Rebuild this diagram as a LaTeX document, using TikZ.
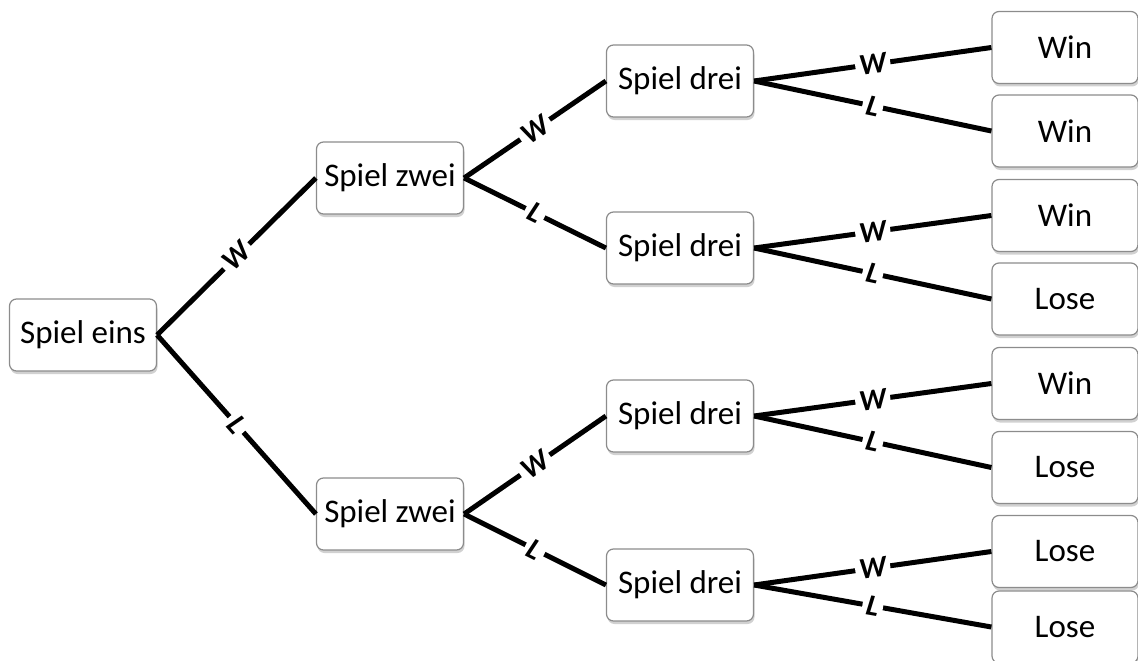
\documentclass[tikz,border=0pt]{standalone}
\usepackage{fontspec}
\setmainfont{Carlito}
\usetikzlibrary{shadows}
\tikzset{
  box/.style={draw=black!45, line width=1.2pt, rounded corners=7pt, fill=white,
    minimum width=147pt, minimum height=72pt, inner sep=0pt, font=\fontsize{33}{36}\selectfont,
    drop shadow={shadow xshift=1pt, shadow yshift=-3pt, opacity=0.3, fill=black!60}},
  leaf/.style={box, minimum width=146pt},
  conn/.style={line width=5pt, black},
  lab/.style={sloped, midway, fill=white, inner xsep=4pt, inner ysep=1pt, font=\fontsize{30}{32}\selectfont\bfseries\itshape}
}
\begin{document}
\begin{tikzpicture}[x=1pt,y=-1pt]
\useasboundingbox (0,0) rectangle (1138,661);
\node[box] (e) at (83,335) {Spiel eins};
\node[box] (z1) at (390,178) {Spiel zwei};
\node[box] (z2) at (390,514) {Spiel zwei};
\node[box] (d1) at (680,81) {Spiel drei};
\node[box] (d2) at (680,248) {Spiel drei};
\node[box] (d3) at (680,416) {Spiel drei};
\node[box] (d4) at (680,585) {Spiel drei};
\node[leaf] (w1) at (1065,47.5) {Win};
\node[leaf] (w2) at (1065,131) {Win};
\node[leaf] (w3) at (1065,215.5) {Win};
\node[leaf] (w4) at (1065,299) {Lose};
\node[leaf] (w5) at (1065,383.5) {Win};
\node[leaf] (w6) at (1065,467.5) {Lose};
\node[leaf] (w7) at (1065,551.5) {Lose};
\node[leaf] (w8) at (1065,627) {Lose};
\draw[conn] (e.east) -- node[lab]{W} (z1.west);
\draw[conn] (e.east) -- node[lab]{L} (z2.west);
\draw[conn] (z1.east) -- node[lab]{W} (d1.west);
\draw[conn] (z1.east) -- node[lab]{L} (d2.west);
\draw[conn] (z2.east) -- node[lab]{W} (d3.west);
\draw[conn] (z2.east) -- node[lab]{L} (d4.west);
\draw[conn] (d1.east) -- node[lab]{W} (w1.west);
\draw[conn] (d1.east) -- node[lab]{L} (w2.west);
\draw[conn] (d2.east) -- node[lab]{W} (w3.west);
\draw[conn] (d2.east) -- node[lab]{L} (w4.west);
\draw[conn] (d3.east) -- node[lab]{W} (w5.west);
\draw[conn] (d3.east) -- node[lab]{L} (w6.west);
\draw[conn] (d4.east) -- node[lab]{W} (w7.west);
\draw[conn] (d4.east) -- node[lab]{L} (w8.west);
\end{tikzpicture}
\end{document}
